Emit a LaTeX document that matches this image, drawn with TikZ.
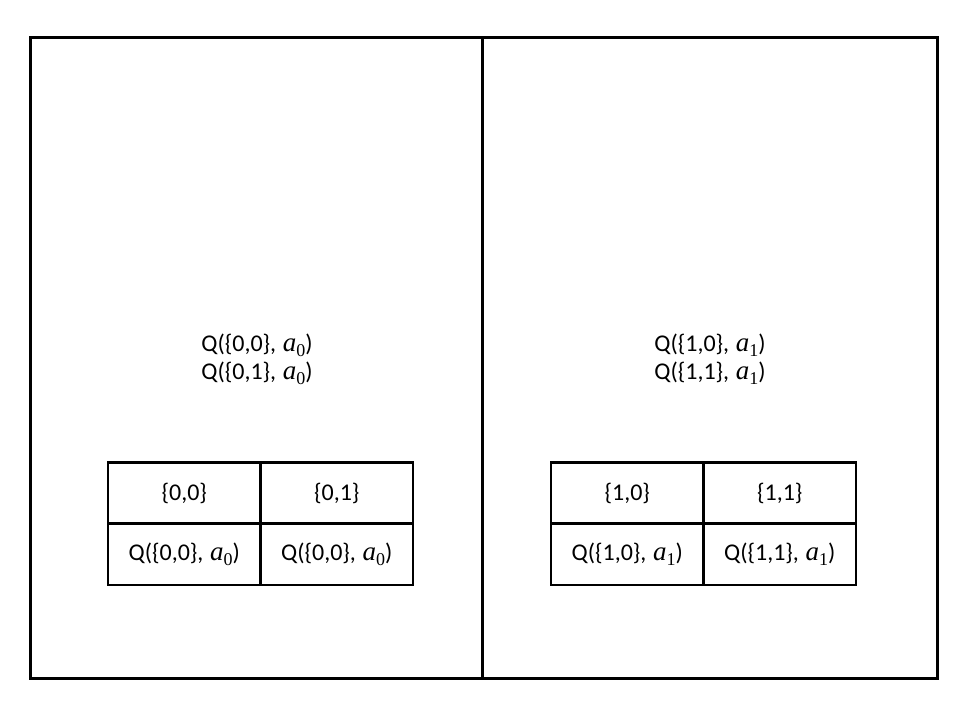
\documentclass[tikz,border=0pt]{standalone}
\usepackage{fontspec}
\setmainfont{Carlito}
\newfontfamily\mathserif{Liberation Serif}
\newcommand{\av}[1]{\kern0.05em{\mathserif\itshape\fontsize{27}{27}\selectfont a}\raisebox{-0.22em}{\mathserif\fontsize{18}{18}\selectfont #1}}
\begin{document}
\begin{tikzpicture}[x=1pt,y=-1pt,
  frame/.style={draw=black,line width=3pt},
  cell/.style={draw=black,line width=2.5pt,minimum width=152.5pt,minimum height=61.5pt,inner sep=0pt,anchor=center,font=\fontsize{24}{29}\selectfont},
  lbl/.style={align=center,font=\fontsize{24}{28}\selectfont,inner sep=0pt}]
\useasboundingbox (0,0) rectangle (960,720);
\node[frame,minimum width=452pt,minimum height=641pt,inner sep=0pt] (L) at (256,357.5) {};
\node[frame,minimum width=455pt,minimum height=641pt,inner sep=0pt] (R) at (709.5,357.5) {};
\node[lbl] (tl) at (257,359) {Q(\{0,0\}, \av{0})\\Q(\{0,1\}, \av{0})};
\node[lbl] (tr) at (710,359) {Q(\{1,0\}, \av{1})\\Q(\{1,1\}, \av{1})};
\node[cell] (l11) at (184.25,493) {\{0,0\}};
\node[cell] (l12) at (336.75,493) {\{0,1\}};
\node[cell] (l21) at (184.25,554) {Q(\{0,0\}, \av{0})};
\node[cell] (l22) at (336.75,554) {Q(\{0,0\}, \av{0})};
\node[cell] (r11) at (627.25,493) {\{1,0\}};
\node[cell] (r12) at (779.75,493) {\{1,1\}};
\node[cell] (r21) at (627.25,554) {Q(\{1,0\}, \av{1})};
\node[cell] (r22) at (779.75,554) {Q(\{1,1\}, \av{1})};
\end{tikzpicture}
\end{document}
